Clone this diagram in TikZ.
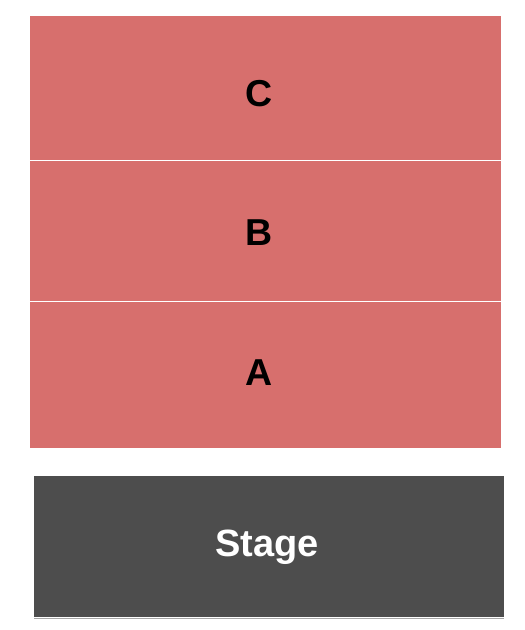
\documentclass[tikz,border=0pt]{standalone}
\usepackage{fontspec}
\setmainfont{Liberation Sans}
\definecolor{seatred}{RGB}{215,111,109}
\definecolor{stagegray}{RGB}{77,77,77}
\tikzset{
	seclabel/.style = {font=\bfseries\fontsize{37.5}{37.5}\selectfont, text=black, inner sep=0pt, anchor=base},
	stagelabel/.style = {font=\bfseries\fontsize{38}{38}\selectfont, text=white, inner sep=0pt, anchor=base}
}

\begin{document}
\begin{tikzpicture}[x=1pt, y=-1pt]

\useasboundingbox (0,0) rectangle (525,630);

\fill[seatred] (30,16) rectangle (501,447.5);
\foreach \y in {160.7,301.5}
	\draw[white, line width=1pt] (30,\y)--(501,\y);

\fill[stagegray] (34,476) rectangle (504,617);
\draw[black!35, line width=1pt] (34,618.5)--(504,618.5);

\node[seclabel] (secC) at (259,106.5) {C};
\node[seclabel] (secB) at (259,245.5) {B};
\node[seclabel] (secA) at (259.5,385.5) {A};
\node[stagelabel] (stage) at (267,556.5) {Stage};
\end{tikzpicture}
\end{document}
